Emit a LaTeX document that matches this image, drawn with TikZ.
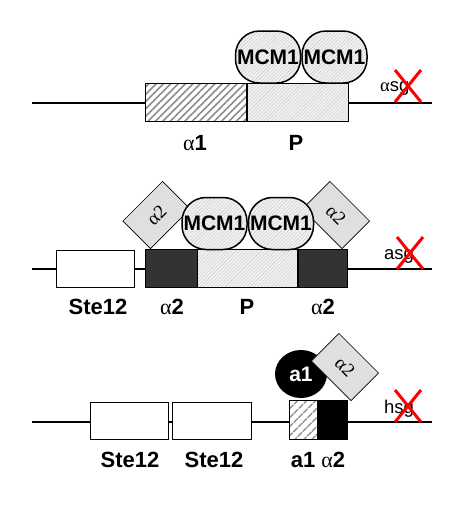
\documentclass[tikz,border=0pt]{standalone}
\usepackage{fontspec}
\setmainfont{Liberation Sans}
\newfontfamily\greekfont{Liberation Serif}
\usetikzlibrary{patterns.meta, positioning, shapes.geometric}

\newcommand{\lal}{{\greekfont\mdseries α}}

\tikzset{
  dna/.style={line width=2pt},
  site/.style={draw, line width=0.8pt, inner sep=0pt, minimum height=38pt},
  coarse/.style={site, preaction={fill=white},
    pattern={Lines[angle=45,distance=5.2pt,line width=1.6pt]}, pattern color=black!45},
  fine/.style={preaction={fill=gray!10},
    pattern={Lines[angle=45,distance=2.5pt,line width=0.4pt]}, pattern color=gray!45},
  darksite/.style={site, fill=black!80},
  mcm/.style={draw, line width=1.5pt, rounded corners=24pt, fine,
    minimum width=65pt, minimum height=52pt, inner sep=0pt,
    font=\fontsize{21}{24}\selectfont\bfseries},
  alphatwo/.style={draw, line width=0.6pt, fill=gray!25,
    minimum width=56pt, minimum height=39pt, inner sep=0pt,
    font=\greekfont\fontsize{19}{22}\selectfont},
  lbl/.style={font=\fontsize{22}{26}\selectfont\bfseries},
  gene/.style={font=\fontsize{18.5}{22}\selectfont, inner sep=0pt, anchor=base west},
  cross/.style={red, line width=3pt}
}

\begin{document}
\begin{tikzpicture}[x=1pt, y=-1pt]
  \useasboundingbox (0,0) rectangle (469,512);
  % alpha-specific genes: MCM1 on P
  \coordinate (dnaA-w) at (32,103);
  \coordinate (dnaA-e) at (432,103);
  \draw[dna] (dnaA-w) -- (dnaA-e);
  \node[coarse, minimum width=101pt] (alA) at (195.5,102) {};
  \node[site, fine, minimum width=101pt, right=0pt of alA] (pA) {};
  \node[mcm] (mcmA1) at (268,57) {MCM1};
  \node[mcm, right=0pt of mcmA1] (mcmA2) {MCM1};
  \node[lbl] (labA1) at (195,143) {\lal1};
  \node[lbl] (labA2) at (296,143) {P};
  \node[gene] (genA) at (380,91) {\lal sg};

  % a-specific genes: alpha2 + MCM1
  \coordinate (dnaB-w) at (32,269);
  \coordinate (dnaB-e) at (432,269);
  \draw[dna] (dnaB-w) -- (dnaB-e);
  \node[site, fill=white, minimum width=78pt, minimum height=37pt] (steB) at (95,268.5) {};
  \node[darksite, minimum width=52pt] (alB1) at (171,268) {};
  \node[site, fine, minimum width=100pt, right=0pt of alB1] (pB) {};
  \node[darksite, minimum width=49pt, right=0pt of pB] (alB2) {};
  \node[alphatwo, rotate=45] (dmB1) at (156.5,215) {α2};
  \node[alphatwo, rotate=-45] (dmB2) at (336,215) {α2};
  \node[mcm] (mcmB1) at (214.5,223.5) {MCM1};
  \node[mcm, right=0pt of mcmB1] (mcmB2) {MCM1};
  \node[lbl] (labB1) at (98,307) {Ste12};
  \node[lbl] (labB2) at (172,307) {\lal2};
  \node[lbl] (labB3) at (247,307) {P};
  \node[lbl] (labB4) at (323,307) {\lal2};
  \node[gene] (genB) at (384,259) {asg};

  % haploid-specific genes: a1-alpha2
  \coordinate (dnaC-w) at (32,422);
  \coordinate (dnaC-e) at (432,422);
  \draw[dna] (dnaC-w) -- (dnaC-e);
  \node[site, fill=white, minimum width=78pt, minimum height=37pt] (steC1) at (129,420.5) {};
  \node[site, fill=white, minimum width=79pt, minimum height=37pt] (steC2) at (211.5,420.5) {};
  \node[site, minimum width=28pt, minimum height=39pt, preaction={fill=white},
    pattern={Lines[angle=45,distance=6.5pt,line width=1.8pt]}, pattern color=black!40]
    (aoC) at (303,419.5) {};
  \node[site, fill=black, minimum width=29pt, minimum height=39pt, right=0pt of aoC] (atC) {};
  \node[ellipse, fill=black, minimum width=52pt, minimum height=48pt, inner sep=0pt,
    text=white, font=\fontsize{21}{24}\selectfont\bfseries] (aC) at (301,374) {a1};
  \node[alphatwo, rotate=-45] (dmC) at (345,367) {α2};
  \node[lbl] (labC1) at (130,460) {Ste12};
  \node[lbl] (labC2) at (214,460) {Ste12};
  \node[lbl] (labC3) at (318,460) {a1 \lal2};
  \node[gene] (genC) at (384,413) {hsg};

  % repressed
  \foreach \cx/\cy in {408/86, 410/253, 408/406}
    \draw[cross] (\cx-13,\cy-16) -- (\cx+13,\cy+16)
                 (\cx-13,\cy+16) -- (\cx+13,\cy-16);
\end{tikzpicture}
\end{document}
